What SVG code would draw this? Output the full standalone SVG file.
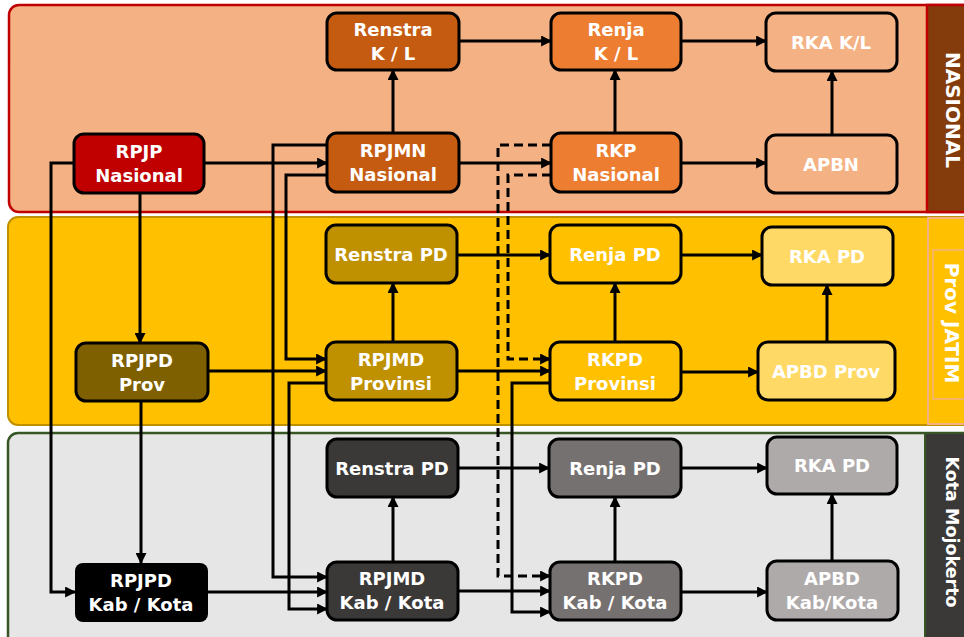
<svg xmlns="http://www.w3.org/2000/svg" width="964" height="637" viewBox="0 0 964 637">
<defs>
<marker id="ah" viewBox="0 0 10 10" refX="9" refY="5" markerWidth="11" markerHeight="11" markerUnits="userSpaceOnUse" orient="auto">
<path d="M0,0 L10,5 L0,10 z" fill="#000"/>
</marker>
<style>
.node rect{stroke:#000;stroke-width:3}
.t{font-family:"DejaVu Sans","Liberation Sans",sans-serif;font-weight:bold;font-size:18px;fill:#fff;text-anchor:middle}
.side{font-family:"DejaVu Sans","Liberation Sans",sans-serif;font-weight:bold;fill:#fff;text-anchor:middle}
.c path{fill:none;stroke:#000;stroke-width:3;marker-end:url(#ah)}
.c path.d{stroke-dasharray:9 5}
</style>
</defs>
<rect width="964" height="637" fill="#fff"/>
<!-- bands -->
<g id="band-nasional">
<rect x="9" y="5" width="970" height="207" rx="10" fill="#F4B183" stroke="#C00000" stroke-width="2.5"/>
<rect x="927" y="5" width="50" height="207" fill="#843C0C" stroke="#C00000" stroke-width="2.5"/>
<text class="side" font-size="20" transform="translate(946,110) rotate(90)">NASIONAL</text>
</g>
<g id="band-prov">
<rect x="8" y="217" width="970" height="208" rx="10" fill="#FFC000" stroke="#BF9000" stroke-width="2"/>
<rect x="928" y="218" width="50" height="206" fill="#FFC000" stroke="#F4B183" stroke-width="2"/>
<rect x="933" y="250" width="40" height="149" fill="none" stroke="#F4B183" stroke-width="1.5"/>
<text class="side" font-size="20" transform="translate(945,323) rotate(90)">Prov JATIM</text>
</g>
<g id="band-kota">
<rect x="8" y="433" width="970" height="215" rx="10" fill="#E7E6E6" stroke="#375623" stroke-width="2.5"/>
<rect x="925" y="433" width="50" height="210" fill="#3B3838" stroke="#375623" stroke-width="2"/>
<text class="side" font-size="17.5" transform="translate(946,532) rotate(90)">Kota Mojokerto</text>
</g>
<!-- connectors -->
<g id="connectors" class="c">
<path d="M204,163 H327"/>
<path d="M74,163 H51 V592 H75"/>
<path d="M140,193 V343"/>
<path d="M141,401 V563"/>
<path d="M208,371 H326"/>
<path d="M208,592 H327"/>
<path d="M327,145 H273 V577 H327"/>
<path d="M327,175 H286 V359 H326"/>
<path d="M326,383 H289 V609 H327"/>
<path d="M459,163 H551"/>
<path d="M457,371 H550"/>
<path d="M458,591 H550"/>
<path d="M550,383 H512 V612 H550"/>
<path class="d" d="M551,145 H498 V576 H550"/>
<path class="d" d="M551,175 H508 V359 H550"/>
<path d="M459,41 H551"/>
<path d="M681,41 H766"/>
<path d="M393,133 V70"/>
<path d="M615,133 V70"/>
<path d="M681,163 H766"/>
<path d="M832,135 V71"/>
<path d="M457,255 H550"/>
<path d="M681,255 H762"/>
<path d="M393,342 V283"/>
<path d="M615,342 V283"/>
<path d="M681,372 H758"/>
<path d="M827,342 V285"/>
<path d="M458,468 H549"/>
<path d="M681,468 H767"/>
<path d="M393,562 V497"/>
<path d="M615,562 V497"/>
<path d="M681,592 H767"/>
<path d="M832,561 V494"/>
</g>
<!-- Nasional nodes -->
<g id="renstra-kl" class="node"><rect x="327" y="13" width="132" height="57" rx="10" fill="#C55A11"/><text class="t" x="393" y="36">Renstra</text><text class="t" x="393" y="60">K / L</text></g>
<g id="renja-kl" class="node"><rect x="551" y="13" width="130" height="57" rx="10" fill="#ED7D31"/><text class="t" x="616" y="36">Renja</text><text class="t" x="616" y="60">K / L</text></g>
<g id="rka-kl" class="node"><rect x="766" y="13" width="131" height="58" rx="10" fill="#F4B183"/><text class="t" x="831" y="49">RKA K/L</text></g>
<g id="rpjp-nasional" class="node"><rect x="74" y="134" width="130" height="59" rx="10" fill="#C00000"/><text class="t" x="139" y="158">RPJP</text><text class="t" x="139" y="182">Nasional</text></g>
<g id="rpjmn-nasional" class="node"><rect x="327" y="133" width="132" height="59" rx="10" fill="#C55A11"/><text class="t" x="393" y="157">RPJMN</text><text class="t" x="393" y="181">Nasional</text></g>
<g id="rkp-nasional" class="node"><rect x="551" y="133" width="130" height="59" rx="10" fill="#ED7D31"/><text class="t" x="616" y="157">RKP</text><text class="t" x="616" y="181">Nasional</text></g>
<g id="apbn" class="node"><rect x="766" y="135" width="131" height="58" rx="10" fill="#F4B183"/><text class="t" x="831" y="171">APBN</text></g>
<!-- Prov nodes -->
<g id="renstra-pd-prov" class="node"><rect x="326" y="225" width="131" height="58" rx="10" fill="#BF9000"/><text class="t" x="391" y="261">Renstra PD</text></g>
<g id="renja-pd-prov" class="node"><rect x="550" y="225" width="131" height="58" rx="10" fill="#FFC000"/><text class="t" x="615" y="261">Renja PD</text></g>
<g id="rka-pd-prov" class="node"><rect x="762" y="227" width="131" height="58" rx="10" fill="#FFD966"/><text class="t" x="827" y="263">RKA PD</text></g>
<g id="rpjpd-prov" class="node"><rect x="76" y="343" width="132" height="58" rx="10" fill="#7F6000"/><text class="t" x="142" y="367">RPJPD</text><text class="t" x="142" y="391">Prov</text></g>
<g id="rpjmd-provinsi" class="node"><rect x="326" y="342" width="131" height="58" rx="10" fill="#BF9000"/><text class="t" x="391" y="366">RPJMD</text><text class="t" x="391" y="390">Provinsi</text></g>
<g id="rkpd-provinsi" class="node"><rect x="550" y="342" width="131" height="58" rx="10" fill="#FFC000"/><text class="t" x="615" y="366">RKPD</text><text class="t" x="615" y="390">Provinsi</text></g>
<g id="apbd-prov" class="node"><rect x="758" y="342" width="137" height="58" rx="10" fill="#FFD966"/><text class="t" x="826" y="378">APBD Prov</text></g>
<!-- Kota nodes -->
<g id="renstra-pd-kota" class="node"><rect x="327" y="439" width="131" height="58" rx="10" fill="#3B3838"/><text class="t" x="392" y="475">Renstra PD</text></g>
<g id="renja-pd-kota" class="node"><rect x="549" y="439" width="132" height="58" rx="10" fill="#767171"/><text class="t" x="615" y="475">Renja PD</text></g>
<g id="rka-pd-kota" class="node"><rect x="767" y="437" width="130" height="57" rx="10" fill="#AEAAAA"/><text class="t" x="832" y="472">RKA PD</text></g>
<g id="rpjpd-kabkota" class="node"><rect x="75" y="563" width="133" height="59" rx="8" fill="#000" style="stroke-width:0"/><text class="t" x="141" y="587">RPJPD</text><text class="t" x="141" y="611">Kab / Kota</text></g>
<g id="rpjmd-kabkota" class="node"><rect x="327" y="562" width="131" height="58" rx="10" fill="#3B3838"/><text class="t" x="392" y="585">RPJMD</text><text class="t" x="392" y="609">Kab / Kota</text></g>
<g id="rkpd-kabkota" class="node"><rect x="550" y="562" width="131" height="58" rx="10" fill="#767171"/><text class="t" x="615" y="585">RKPD</text><text class="t" x="615" y="609">Kab / Kota</text></g>
<g id="apbd-kabkota" class="node"><rect x="767" y="561" width="131" height="59" rx="10" fill="#AEAAAA"/><text class="t" x="832" y="585">APBD</text><text class="t" x="832" y="609">Kab/Kota</text></g>
</svg>
